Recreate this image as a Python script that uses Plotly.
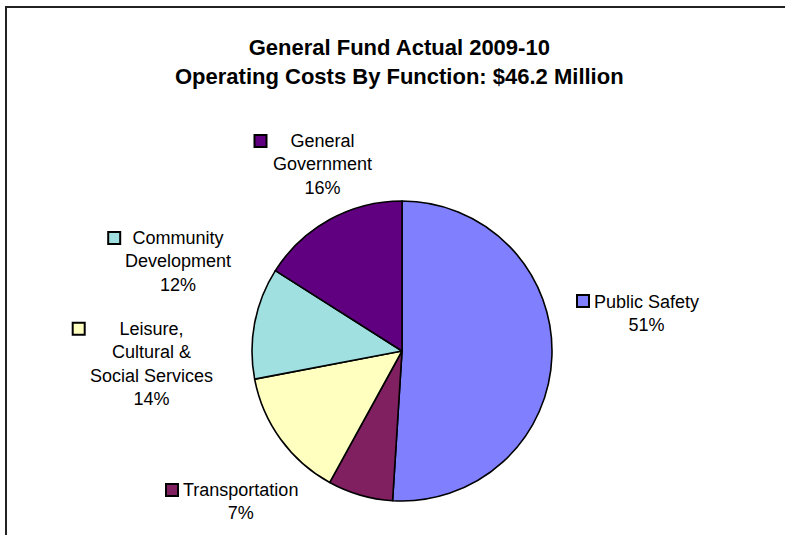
import plotly.graph_objects as go

# Operating costs by function, General Fund 2009-10 (share of $46.2M, %)
categories = ["Public Safety", "Transportation", "Leisure, Cultural & Social Services",
              "Community Development", "General Government"]
display_names = ["Public Safety", "Transportation", "Leisure,<br>Cultural &<br>Social Services",
                 "Community<br>Development", "General<br>Government"]
shares = [51, 7, 14, 12, 16]
colors = ["#8080FF", "#802060", "#FFFFC0", "#A0E0E0", "#600080"]

title_lines = ["General Fund Actual 2009-10", "Operating Costs By Function: $46.2 Million"]

W, H = 785, 535
FONT = "Liberation Sans, Arial, sans-serif"

# Pie geometry in pixels (center and radius)
cx, cy, r = 402, 351, 150

# Label block centers and legend-key centers, in pixels
label_centers = [(646, 313), (240.5, 501.5), (151, 363.5), (178, 261.7), (322, 164)]
key_centers = [(583, 301), (172, 490), (78.7, 328.7), (114.2, 238), (260.5, 141)]
KEY = 12


def px(x):
    return x / W


def py(y):
    return 1 - y / H


fig = go.Figure(go.Pie(
    labels=categories,
    values=shares,
    sort=False,
    direction="clockwise",
    rotation=0,
    marker=dict(colors=colors, line=dict(color="black", width=1.6)),
    textinfo="none",
    hoverinfo="label+percent",
    showlegend=False,
    domain=dict(x=[px(cx - r), px(cx + r)], y=[py(cy + r), py(cy - r)]),
))

annotations = [
    dict(text="<b>" + "<br>".join(title_lines) + "</b>",
         x=px(399), y=py(62), xref="paper", yref="paper",
         xanchor="center", yanchor="middle", showarrow=False,
         font=dict(family=FONT, size=22, color="black"), align="center")
]
shapes = [
    # chart frame (left and top edges visible)
    dict(type="rect", xref="paper", yref="paper",
         x0=px(6), x1=px(W + 10), y0=py(7), y1=py(H + 10),
         line=dict(color="#222222", width=2), fillcolor="rgba(0,0,0,0)")
]

for name, val, col, (lx, ly), (kx, ky) in zip(display_names, shares, colors,
                                               label_centers, key_centers):
    annotations.append(dict(
        text=f"{name}<br>{val}%", x=px(lx), y=py(ly), xref="paper", yref="paper",
        xanchor="center", yanchor="middle", showarrow=False, align="center",
        borderpad=0, font=dict(family=FONT, size=18, color="black")))
    shapes.append(dict(
        type="rect", xref="paper", yref="paper",
        x0=px(kx - KEY / 2), x1=px(kx + KEY / 2),
        y0=py(ky + KEY / 2), y1=py(ky - KEY / 2),
        line=dict(color="black", width=2), fillcolor=col))

fig.update_layout(
    width=W, height=H,
    margin=dict(l=0, r=0, t=0, b=0),
    paper_bgcolor="white", plot_bgcolor="white",
    annotations=annotations, shapes=shapes,
)

fig.write_html("out.html")
